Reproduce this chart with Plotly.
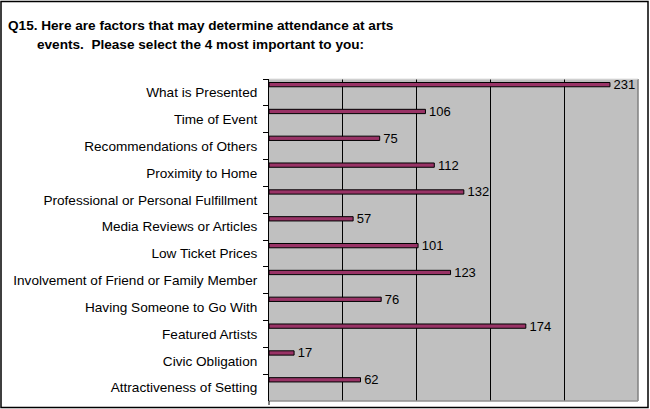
import plotly.graph_objects as go

categories = [
    "What is Presented",
    "Time of Event",
    "Recommendations of Others",
    "Proximity to Home",
    "Professional or Personal Fulfillment",
    "Media Reviews or Articles",
    "Low Ticket Prices",
    "Involvement of Friend or Family Member",
    "Having Someone to Go With",
    "Featured Artists",
    "Civic Obligation",
    "Attractiveness of Setting",
]
values = [231, 106, 75, 112, 132, 57, 101, 123, 76, 174, 17, 62]
title_line1 = "Q15. Here are factors that may determine attendance at arts"
title_line2 = "events.\u00a0 Please select the 4 most important to you:"

W, H = 650, 409
ML, MR, MT, MB = 269, 12, 79, 8
pw = W - ML - MR
ph = H - MT - MB

fig = go.Figure()
fig.add_trace(go.Bar(
    x=values,
    y=categories,
    orientation="h",
    width=0.16,
    offset=-0.37,
    marker=dict(color="#993366", line=dict(color="#000000", width=1)),
    text=["\u00a0" + str(v) for v in values],
    textposition="outside",
    constraintext="none",
    textfont=dict(family="Liberation Sans, Arial", size=13, color="#000000"),
    cliponaxis=False,
    hoverinfo="x+y",
))

def px_x(p):
    return (p - ML) / pw

def px_y(p):
    return 1 - (p - MT) / ph

fig.update_layout(
    width=W,
    height=H,
    margin=dict(l=ML, r=MR, t=MT, b=MB, pad=0),
    paper_bgcolor="#FFFFFF",
    plot_bgcolor="#C0C0C0",
    showlegend=False,
    font=dict(family="Liberation Sans, Arial", size=12, color="#000000"),
    xaxis=dict(
        range=[0, 250],
        dtick=50,
        showgrid=True,
        gridcolor="#000000",
        gridwidth=1,
        showticklabels=False,
        zeroline=False,
        showline=False,
        ticks="",
        fixedrange=True,
    ),
    yaxis=dict(
        categoryorder="array",
        categoryarray=categories,
        autorange="reversed",
        showline=True,
        linecolor="#000000",
        linewidth=1,
        ticks="outside",
        ticklen=5,
        tickcolor="#000000",
        tickson="boundaries",
        ticklabelstandoff=8,
        showgrid=False,
        tickfont=dict(family="Liberation Sans, Arial", size=13.6, color="#000000"),
        fixedrange=True,
    ),
    annotations=[
        dict(text="<b>" + title_line1 + "</b>", xref="paper", yref="paper",
             x=px_x(6), y=px_y(25), xanchor="left", yanchor="middle",
             showarrow=False,
             font=dict(family="Liberation Sans, Arial", size=13.6, color="#000000")),
        dict(text="<b>" + title_line2 + "</b>", xref="paper", yref="paper",
             x=px_x(35), y=px_y(45), xanchor="left", yanchor="middle",
             showarrow=False,
             font=dict(family="Liberation Sans, Arial", size=13.6, color="#000000")),
    ],
    shapes=[
        dict(type="rect", xref="paper", yref="paper",
             x0=px_x(1), x1=px_x(648), y0=px_y(1.5), y1=px_y(407.5),
             line=dict(color="#000000", width=1.5), fillcolor="rgba(0,0,0,0)", layer="above"),
        dict(type="line", xref="paper", yref="paper",
             x0=1, x1=1, y0=0, y1=1,
             line=dict(color="#808080", width=1.5), layer="above"),
        dict(type="line", xref="paper", yref="paper",
             x0=0, x1=1, y0=0, y1=0,
             line=dict(color="#909090", width=1.5), layer="above"),
        dict(type="line", xref="paper", yref="paper",
             x0=0, x1=1, y0=1, y1=1,
             line=dict(color="#E0E0E0", width=1), layer="above"),
        dict(type="line", xref="paper", yref="paper",
             x0=0, x1=0, y0=0, y1=-4 / ph,
             line=dict(color="#000000", width=1), layer="above"),
    ],
)

fig.write_html(
    "out.html",
    config={"displayModeBar": False},
    post_script="document.body.style.margin='0';document.body.style.padding='0';",
)
